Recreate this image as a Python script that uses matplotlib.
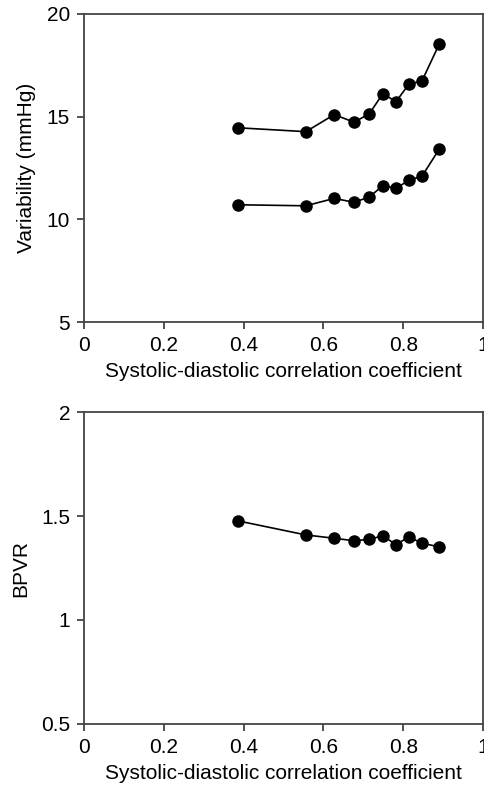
import matplotlib
matplotlib.use("Agg")
import matplotlib.pyplot as plt

plt.rcParams['font.family'] = ['Liberation Sans', 'DejaVu Sans']

# correlation coefficient (x) for each group
corr = [0.385, 0.556, 0.627, 0.677, 0.715, 0.749, 0.782, 0.814, 0.847, 0.890]
# variability (mmHg), two series
var_upper = [14.46, 14.27, 15.10, 14.73, 15.14, 16.12, 15.73, 16.58, 16.74, 18.52]
var_lower = [10.71, 10.66, 11.02, 10.83, 11.09, 11.64, 11.51, 11.90, 12.10, 13.41]
# blood pressure variability ratio
bpvr = [1.477, 1.409, 1.393, 1.381, 1.388, 1.405, 1.362, 1.400, 1.369, 1.352]

xticks = [0, 0.2, 0.4, 0.6, 0.8, 1]
xticklabels = ['0', '0.2', '0.4', '0.6', '0.8', '1']

fig = plt.figure(figsize=(4.85, 7.86), dpi=100)
ax1 = fig.add_axes([0.1732, 0.5903, 0.8227, 0.3919])
ax2 = fig.add_axes([0.1732, 0.0789, 0.8227, 0.3969])

style = dict(color='black', marker='o', markersize=8, linewidth=1.2)

ax1.plot(corr, var_upper, **style)
ax1.plot(corr, var_lower, **style)
ax1.set_xlim(0, 1)
ax1.set_ylim(5, 20)
ax1.set_yticks([5, 10, 15, 20])
ax1.set_ylabel('Variability (mmHg)', fontsize=15, labelpad=8)

ax2.plot(corr, bpvr, **style)
ax2.set_xlim(0, 1)
ax2.set_ylim(0.5, 2)
ax2.set_yticks([0.5, 1, 1.5, 2])
ax2.set_yticklabels(['0.5', '1', '1.5', '2'])
ax2.set_ylabel('BPVR', fontsize=15, labelpad=8)

for ax in (ax1, ax2):
    ax.set_xticks(xticks)
    ax.set_xticklabels(xticklabels)
    ax.set_xlabel('Systolic-diastolic correlation coefficient', fontsize=15, labelpad=5)
    ax.tick_params(direction='out', length=5, width=1.2, labelsize=15, color='#333333')
    ax.tick_params(axis='x', pad=5)
    ax.tick_params(axis='y', pad=5)
    for s in ax.spines.values():
        s.set_color('#444444')
        s.set_linewidth(1.3)

fig.savefig('out.png', dpi=100)
